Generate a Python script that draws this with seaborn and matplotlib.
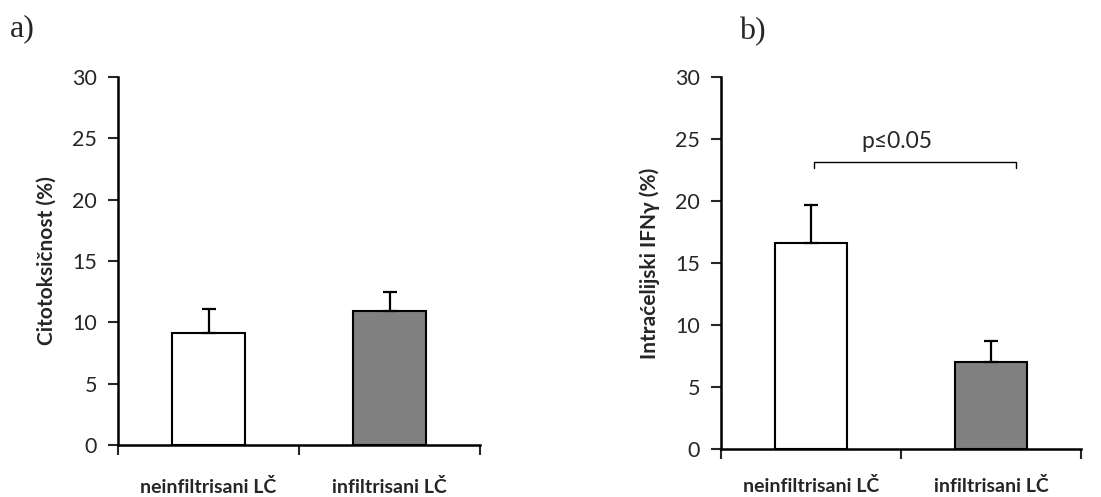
import matplotlib
matplotlib.use("Agg")
import matplotlib.pyplot as plt
import seaborn as sns
import pandas as pd

categories = ["neinfiltrisani LČ", "infiltrisani LČ"]
citotoksicnost = [9.15, 10.9]
citotoksicnost_err = [1.9, 1.55]
ifng = [16.6, 7.05]
ifng_err = [3.1, 1.7]
bar_colors = ["#ffffff", "#808080"]
yticks = [0, 5, 10, 15, 20, 25, 30]

sns.set_style("white")
plt.rcParams['font.family'] = ['Lato', 'DejaVu Sans']

fig = plt.figure(figsize=(11.01, 4.97), dpi=100)
ax_a = fig.add_axes([0.1072, 0.1046, 0.3288, 0.7404])
ax_b = fig.add_axes([0.6546, 0.0966, 0.3274, 0.7479])

def draw(ax, vals, errs, ylabel, xpad):
    df = pd.DataFrame({"cat": categories, "val": vals})
    sns.barplot(data=df, x="cat", y="val", hue="cat", palette=bar_colors,
                width=0.4, edgecolor="black", linewidth=1.5, ax=ax,
                legend=False, errorbar=None)
    ax.errorbar(range(len(vals)), vals, yerr=[[0] * len(vals), errs],
                fmt="none", ecolor="black", elinewidth=1.6, capsize=5,
                capthick=1.6)
    ax.set_ylim(0, 30)
    ax.set_xlim(-0.5, 1.5)
    ax.set_yticks(yticks)
    ax.set_yticklabels([str(t) for t in yticks], fontsize=15.5)
    ax.set_xticks([-0.5, 0.5, 1.5], minor=False)
    ax.set_xticklabels(["", "", ""])
    ax.set_xticks([0, 1], minor=True)
    ax.set_xticklabels(categories, minor=True, fontsize=14, fontweight="bold")
    ax.tick_params(axis="x", which="major", direction="out", length=7,
                   width=1.5, bottom=True)
    ax.tick_params(axis="x", which="minor", length=0, pad=xpad, bottom=True)
    ax.tick_params(axis="y", direction="out", length=7, width=1.5, left=True,
                   pad=8)
    ax.set_xlabel("")
    ax.set_ylabel(ylabel, fontsize=15, fontweight="bold", labelpad=11)
    for s in ["top", "right"]:
        ax.spines[s].set_visible(False)
    for s in ["left", "bottom"]:
        ax.spines[s].set_linewidth(1.8)
        ax.spines[s].set_color("black")

draw(ax_a, citotoksicnost, citotoksicnost_err, "Citotoksičnost (%)", 24)
draw(ax_b, ifng, ifng_err, "Intraćelijski IFNγ (%)", 20.5)

# significance bracket
bx0, bx1, by, bh = 0.02, 1.14, 23.2, 0.55
ax_b.plot([bx0, bx0, bx1, bx1], [by - bh, by, by, by - bh], color="black",
          lw=1.0, clip_on=False)
ax_b.text(0.48, by + 0.8, "p≤0.05", ha="center",
          va="bottom", fontsize=16.5)

fig.text(0.009, 0.943, "a)", fontsize=23, family="Liberation Serif",
         va="center", ha="left")
fig.text(0.671, 0.937, "b)", fontsize=23, family="Liberation Serif",
         va="center", ha="left")

fig.savefig("out.png", dpi=100)
